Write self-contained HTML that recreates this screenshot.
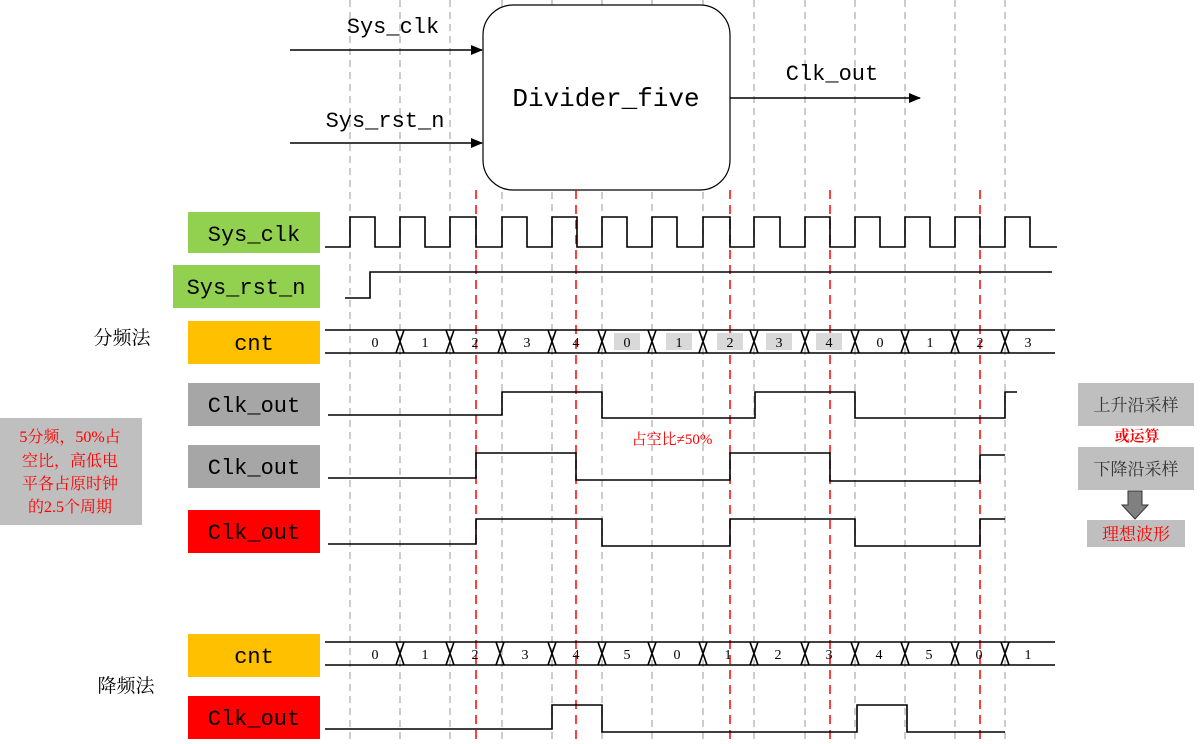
<!DOCTYPE html>
<html><head><meta charset="utf-8"><style>
html,body{margin:0;padding:0;background:#fff;}
svg{display:block;}
.m{font-family:"Liberation Mono","Noto Sans CJK SC",monospace;}
.c{font-family:"Liberation Serif","Noto Serif CJK SC","Noto Sans CJK SC",serif;}
</style></head><body>
<svg width="1201" height="744" viewBox="0 0 1201 744" xmlns="http://www.w3.org/2000/svg">
<defs><marker id="ar" markerWidth="12" markerHeight="10" refX="11" refY="5" orient="auto" markerUnits="userSpaceOnUse"><path d="M0,0 L12,5 L0,10 z" fill="#000"/></marker></defs>
<g stroke="#bbb" stroke-width="1.5" stroke-dasharray="7,5">
<line x1="350" y1="0" x2="350" y2="744"/><line x1="400" y1="0" x2="400" y2="744"/><line x1="450" y1="0" x2="450" y2="744"/><line x1="502" y1="0" x2="502" y2="744"/><line x1="552" y1="0" x2="552" y2="744"/><line x1="602" y1="0" x2="602" y2="744"/><line x1="652" y1="0" x2="652" y2="744"/><line x1="703" y1="0" x2="703" y2="744"/><line x1="754" y1="0" x2="754" y2="744"/><line x1="805" y1="0" x2="805" y2="744"/><line x1="855" y1="0" x2="855" y2="744"/><line x1="905" y1="0" x2="905" y2="744"/><line x1="955" y1="0" x2="955" y2="744"/><line x1="1005" y1="0" x2="1005" y2="744"/>
</g>
<rect x="483" y="5" width="247" height="185" rx="30" fill="#fff" stroke="#000" stroke-width="1.2"/>
<text x="606" y="106" class="m" font-size="26" text-anchor="middle">Divider_five</text>
<g stroke="#000" stroke-width="1.5" fill="none">
<line x1="290" y1="50" x2="482" y2="50" marker-end="url(#ar)"/>
<line x1="290" y1="143" x2="482" y2="143" marker-end="url(#ar)"/>
<line x1="730" y1="98" x2="920" y2="98" marker-end="url(#ar)"/>
</g>
<text x="393" y="33" class="m" font-size="22" text-anchor="middle">Sys_clk</text>
<text x="385" y="127" class="m" font-size="22" text-anchor="middle">Sys_rst_n</text>
<text x="832" y="80" class="m" font-size="22" text-anchor="middle">Clk_out</text>
<g stroke="#f00" stroke-width="1.5" stroke-dasharray="9,6">
<line x1="476" y1="190" x2="476" y2="744"/><line x1="576" y1="190" x2="576" y2="744"/><line x1="730" y1="190" x2="730" y2="744"/><line x1="830" y1="190" x2="830" y2="744"/><line x1="980" y1="190" x2="980" y2="744"/>
</g>
<!-- labels -->
<rect x="188" y="212" width="132" height="41" fill="#92d050"/>
<text x="254" y="241" class="m" font-size="22" text-anchor="middle">Sys_clk</text>
<rect x="173" y="265" width="147" height="43" fill="#92d050"/>
<text x="246" y="294" class="m" font-size="22" text-anchor="middle">Sys_rst_n</text>
<rect x="188" y="321" width="132" height="43" fill="#ffc000"/>
<text x="254" y="350" class="m" font-size="22" text-anchor="middle">cnt</text>
<rect x="188" y="383" width="132" height="43" fill="#a6a6a6"/>
<text x="254" y="412" class="m" font-size="22" text-anchor="middle">Clk_out</text>
<rect x="188" y="445" width="132" height="43" fill="#a6a6a6"/>
<text x="254" y="474" class="m" font-size="22" text-anchor="middle">Clk_out</text>
<rect x="188" y="510" width="132" height="43" fill="#ff0000"/>
<text x="254" y="539" class="m" font-size="22" text-anchor="middle">Clk_out</text>
<rect x="188" y="634" width="132" height="43" fill="#ffc000"/>
<text x="254" y="663" class="m" font-size="22" text-anchor="middle">cnt</text>
<rect x="188" y="696" width="132" height="43" fill="#ff0000"/>
<text x="254" y="725" class="m" font-size="22" text-anchor="middle">Clk_out</text>
<text x="122" y="344" class="c" font-size="19" text-anchor="middle">分频法</text>
<text x="126" y="692" class="c" font-size="19" text-anchor="middle">降频法</text>
<rect x="0" y="418" width="142" height="107" fill="#bfbfbf"/>
<g class="c" font-size="16" fill="#f00" text-anchor="middle">
<text x="70" y="442">5分频，50%占</text><text x="70" y="466">空比，高低电</text><text x="70" y="489">平各占原时钟</text><text x="70" y="512">的2.5个周期</text>
</g>
<!-- waves -->
<g stroke="#000" stroke-width="1.6" fill="none">
<path d="M325 247 H350 V217 H375 V247 H400 V217 H425 V247 H450 V217 H476 V247 H502 V217 H527 V247 H552 V217 H577 V247 H602 V217 H627 V247 H652 V217 H677 V247 H703 V217 H730 V247 H754 V217 H780 V247 H805 V217 H830 V247 H855 V217 H880 V247 H905 V217 H930 V247 H955 V217 H980 V247 H1005 V217 H1030 V247 H1057"/>
<path d="M345 298 H370 V272 H1052"/>
<path d="M325 330 H1055 M325 353 H1055"/>
<path d="M396 330 L404 353 M404 330 L396 353 M446 330 L454 353 M454 330 L446 353 M498 330 L506 353 M506 330 L498 353 M548 330 L556 353 M556 330 L548 353 M598 330 L606 353 M606 330 L598 353 M648 330 L656 353 M656 330 L648 353 M699 330 L707 353 M707 330 L699 353 M750 330 L758 353 M758 330 L750 353 M801 330 L809 353 M809 330 L801 353 M851 330 L859 353 M859 330 L851 353 M901 330 L909 353 M909 330 L901 353 M951 330 L959 353 M959 330 L951 353 M1001 330 L1009 353 M1009 330 L1001 353"/>
<path d="M328 415 H502 V392 H602 V418 H755 V392 H855 V418 H1005 V392 H1017"/>
<path d="M328 478 H476 V453 H576 V480 H730 V453 H830 V481 H980 V455 H1005"/>
<path d="M328 544 H476 V519 H602 V546 H730 V519 H855 V546 H980 V519 H1005"/>
<path d="M325 642 H1055 M325 665 H1055"/>
<path d="M396 642 L404 665 M404 642 L396 665 M446 642 L454 665 M454 642 L446 665 M496 642 L504 665 M504 642 L496 665 M548 642 L556 665 M556 642 L548 665 M598 642 L606 665 M606 642 L598 665 M648 642 L656 665 M656 642 L648 665 M699 642 L707 665 M707 642 L699 665 M750 642 L758 665 M758 642 L750 665 M801 642 L809 665 M809 642 L801 665 M851 642 L859 665 M859 642 L851 665 M901 642 L909 665 M909 642 L901 665 M951 642 L959 665 M959 642 L951 665 M1001 642 L1009 665 M1009 642 L1001 665"/>
<path d="M325 729 H552 V705 H602 V732 H857 V705 H907 V732 H1005"/>
</g>
<g fill="#d9d9d9"><rect x="614" y="333" width="26" height="17"/><rect x="666" y="333" width="26" height="17"/><rect x="717" y="333" width="26" height="17"/><rect x="766" y="333" width="26" height="17"/><rect x="816" y="333" width="26" height="17"/></g>
<g class="c" font-size="14" text-anchor="middle">
<text x="375" y="347">0</text><text x="425" y="347">1</text><text x="475" y="347">2</text><text x="527" y="347">3</text><text x="576" y="347">4</text><text x="627" y="347">0</text><text x="679" y="347">1</text><text x="730" y="347">2</text><text x="779" y="347">3</text><text x="829" y="347">4</text><text x="880" y="347">0</text><text x="930" y="347">1</text><text x="980" y="347">2</text><text x="1028" y="347">3</text>
<text x="375" y="659">0</text><text x="425" y="659">1</text><text x="475" y="659">2</text><text x="525" y="659">3</text><text x="576" y="659">4</text><text x="627" y="659">5</text><text x="677" y="659">0</text><text x="728" y="659">1</text><text x="778" y="659">2</text><text x="829" y="659">3</text><text x="879" y="659">4</text><text x="929" y="659">5</text><text x="979" y="659">0</text><text x="1028" y="659">1</text>
</g>
<text x="672" y="444" class="c" font-size="15" fill="#f00" text-anchor="middle">占空比≠50%</text>
<!-- right -->
<rect x="1078" y="383" width="116" height="43" fill="#bfbfbf"/>
<text x="1136" y="411" class="c" font-size="17" fill="#333" text-anchor="middle">上升沿采样</text>
<text x="1137" y="441" class="c" font-size="15" font-weight="bold" fill="#f00" text-anchor="middle">或运算</text>
<rect x="1078" y="447" width="116" height="43" fill="#bfbfbf"/>
<text x="1136" y="475" class="c" font-size="17" fill="#333" text-anchor="middle">下降沿采样</text>
<path d="M1128 491 H1142 V505 H1148 L1135 519 L1122 505 H1128 Z" fill="#808080" stroke="#333"/>
<rect x="1087" y="520" width="98" height="27" fill="#bfbfbf"/>
<text x="1136" y="540" class="c" font-size="17" fill="#f00" text-anchor="middle">理想波形</text>
</svg>
</body></html>
